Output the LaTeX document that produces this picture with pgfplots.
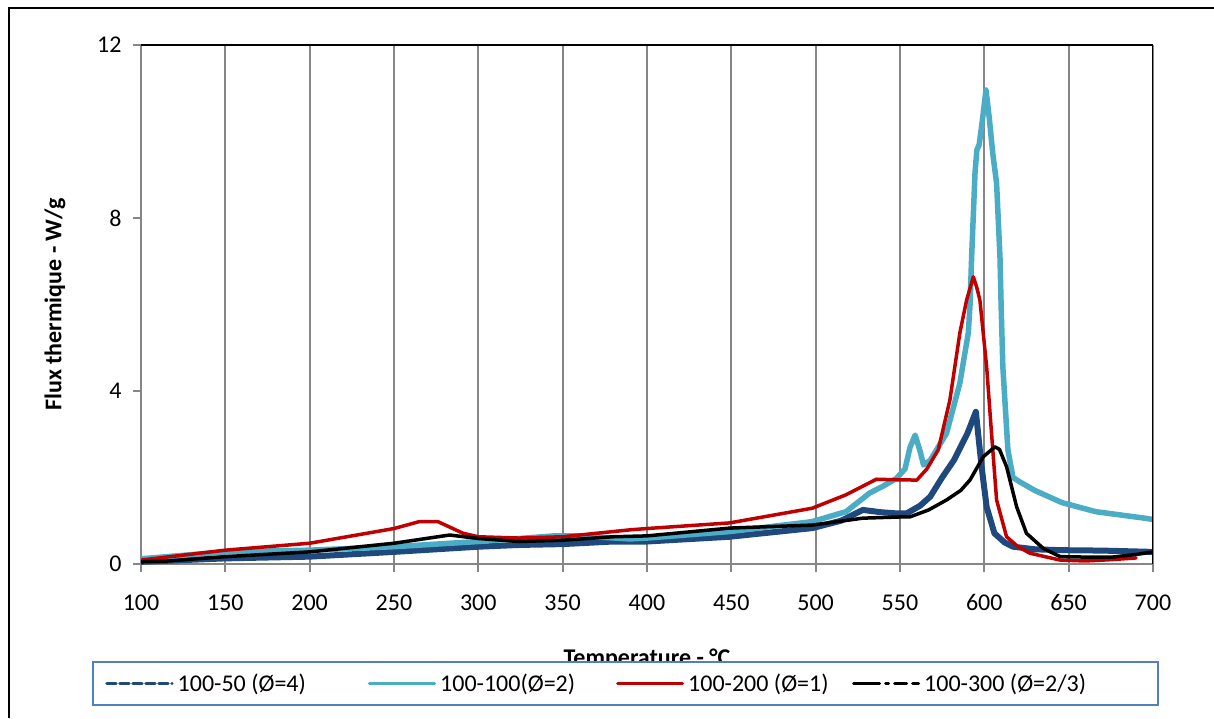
\documentclass[border=0pt]{standalone}
\usepackage{pgfplots}
\pgfplotsset{compat=1.18}
\usepackage{fontspec}
\setmainfont{Carlito}
\definecolor{dblue}{RGB}{31,73,125}
\definecolor{aqua}{RGB}{75,172,198}
\definecolor{dred}{RGB}{192,0,0}
\definecolor{gridgray}{RGB}{134,134,134}
\definecolor{legblue}{RGB}{79,129,189}
\newcommand{\tf}{\fontsize{24}{28}\selectfont}
\begin{document}
\begin{tikzpicture}
\path[use as bounding box, fill=white] (0pt,0pt) rectangle (1214pt,718pt);
\draw[black, line width=1.5pt] (9pt,0pt) -- (9pt,710pt) -- (1214pt,710pt);
\begin{axis}[
 at={(141pt,154pt)}, anchor=south west,
 width=1012pt, height=519pt, scale only axis,
 xmin=100, xmax=700, ymin=0, ymax=12,
 xtick={100,150,...,700}, ytick={0,4,8,12},
 axis x line*=bottom, axis y line*=left,
 axis line style={gridgray, line width=2pt},
 xmajorgrids, grid style={gridgray, line width=2pt},
 tick align=outside, major tick length=8pt,
 tick style={gridgray, line width=2pt},
 /pgf/number format/assume math mode=true,
 ticklabel style={font=\tf, text=black},
 xticklabel style={yshift=-19pt},
 yticklabel style={xshift=-8pt},
 xlabel={Temperature - °C},
 xlabel style={at={(axis description cs:0.5,-0.1965)}, anchor=base, font=\bfseries\tf},
 ylabel={Flux thermique - W/g},
 ylabel style={at={(axis description cs:-0.085,0.5)}, anchor=center, font=\bfseries\tf},
 legend image code/.code={\draw[#1] (0pt,0pt) -- (65pt,0pt);},
 legend columns=4,
 legend style={at={(axis description cs:0.479,-0.2303)}, anchor=center,
   draw=legblue, line width=1.5pt, fill=white, font=\tf,
   column sep=0pt, inner xsep=12pt, inner ysep=10pt,
   nodes={inner xsep=4pt, inner ysep=2pt}},
 every axis plot/.append style={line join=round, line cap=round},
]
\addplot[dblue, line width=6pt, forget plot] coordinates {
(100,0.05)(150,0.13)(200,0.17)(250,0.28)(300,0.40)(324,0.44)(350,0.46)(380,0.52)(400,0.52)
(449,0.63)(498,0.83)(515,1.0)(528,1.25)(538,1.2)(548,1.17)(554,1.17)(562,1.35)(568,1.56)
(575,2.0)(582,2.4)(590,3.02)(595,3.52)(598.4,2.25)(601.4,1.32)(606,0.71)(612,0.5)(617,0.40)
(630,0.34)(645,0.32)(670,0.31)(700,0.28)};
\addplot[aqua, line width=5.5pt, forget plot] coordinates {
(100,0.12)(150,0.28)(200,0.32)(250,0.40)(300,0.52)(345,0.65)(360,0.65)(390,0.58)(400,0.60)
(449,0.75)(498,0.98)(518,1.21)(532,1.64)(540,1.80)(548,1.98)(553,2.2)(556,2.7)(559,2.98)
(562,2.6)(564,2.29)(568,2.4)(577.6,3.02)(585.5,4.18)(590.5,5.34)(591.5,5.95)(592.5,7.1)
(594.5,9.04)(595.6,9.57)(597,9.7)(599,10.3)(601,10.96)(603,10.3)(605,9.5)(607.3,8.8)
(609.3,7.1)(610,5.95)(611,4.56)(614,2.64)(617,2.0)(621,1.9)(630,1.7)(646,1.42)(666,1.21)
(695,1.06)(700,1.03)};
\addplot[dred, line width=3.5pt, forget plot] coordinates {
(100,0.09)(150,0.32)(200,0.48)(250,0.82)(265,0.98)(276,0.98)(291,0.71)(300,0.63)(324,0.60)
(350,0.63)(390,0.79)(400,0.82)(449,0.95)(498,1.29)(518,1.6)(536,1.96)(545,1.95)(560,1.94)
(566,2.2)(572.7,2.64)(579.6,3.79)(585.5,5.34)(589.5,6.1)(593.5,6.64)(595.5,6.4)(597.4,6.1)
(601.4,4.56)(604.3,3.02)(607.3,1.48)(613.2,0.63)(620,0.4)(627,0.25)(645,0.09)(660,0.07)
(675,0.1)(690,0.14)};
\addplot[black, line width=3.5pt, forget plot] coordinates {
(100,0.05)(116,0.07)(150,0.17)(200,0.28)(250,0.48)(283,0.67)(300,0.59)(324,0.52)(350,0.55)
(380,0.63)(400,0.65)(449,0.83)(498,0.9)(528,1.06)(552,1.09)(556,1.09)(567,1.25)(577.6,1.48)
(586,1.7)(591.5,1.94)(599.4,2.48)(606.3,2.71)(609,2.65)(613.2,2.25)(619.2,1.32)(625,0.71)
(635,0.36)(645,0.17)(660,0.16)(676,0.16)(690,0.22)(700,0.28)};
\addlegendimage{dblue, line width=3.5pt, dash pattern=on 9pt off 4pt}
\addlegendentry{\makebox[186pt][l]{100-50 (Ø=4)}}
\addlegendimage{aqua, line width=3.5pt}
\addlegendentry{\makebox[172pt][l]{100-100(Ø=2)}}
\addlegendimage{dred, line width=3pt}
\addlegendentry{\makebox[160pt][l]{100-200 (Ø=1)}}
\addlegendimage{black, line width=3pt, dash pattern=on 26pt off 6pt on 3pt off 6pt on 12pt off 6pt}
\addlegendentry{\makebox[218pt][l]{100-300 (Ø=2/3)}}
\draw[black, line width=2pt] (rel axis cs:0,1) -- (rel axis cs:1,1) -- (rel axis cs:1,0);
\end{axis}
\end{tikzpicture}
\end{document}
